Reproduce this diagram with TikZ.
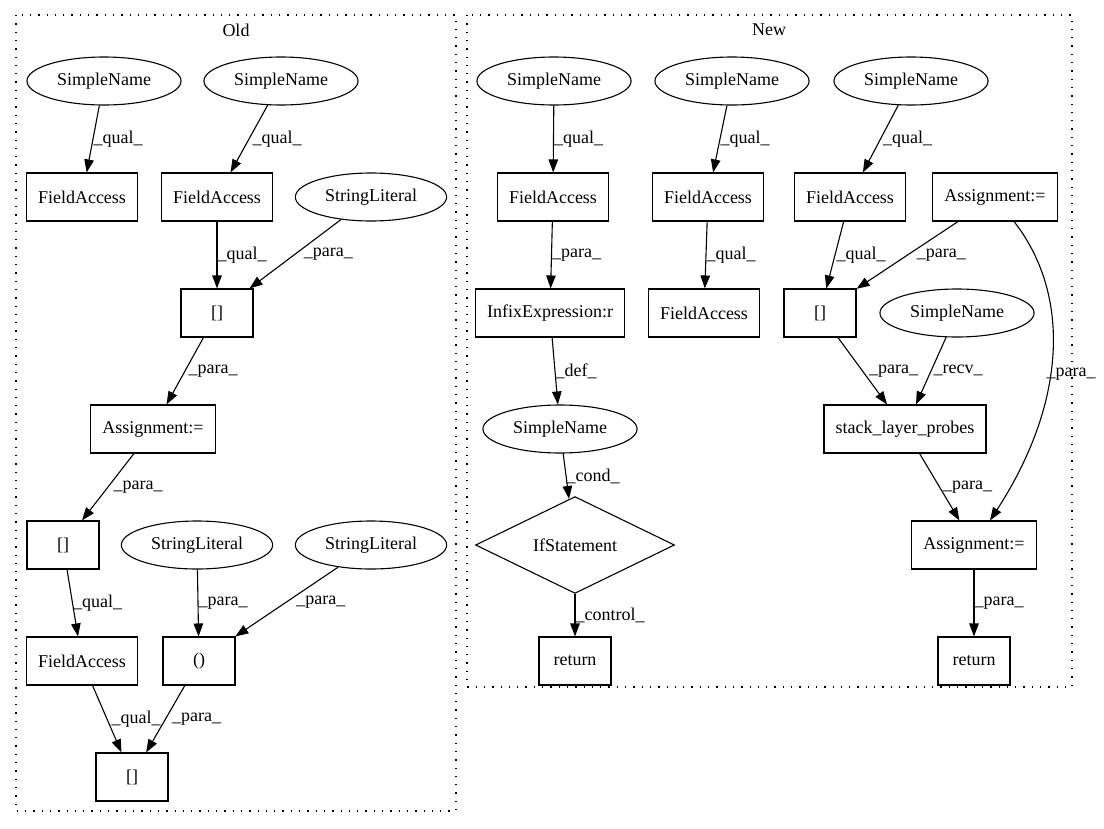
\documentclass[tikz,border=0pt]{standalone}
\usepackage{fontspec}
\setmainfont{Liberation Serif}
\usetikzlibrary{shapes.geometric,arrows.meta}

\begin{document}
\begin{tikzpicture}[x=1pt,y=-1pt,
  font=\fontsize{18}{21}\selectfont, line width=1.1pt,
  box/.style={draw, rectangle, minimum width=72pt, minimum height=48pt, inner xsep=11.5pt},
  oval/.style={draw, ellipse, minimum height=48pt, inner xsep=7.5pt, inner ysep=0pt},
  decision/.style={draw, diamond, minimum width=199pt, minimum height=47pt, inner sep=0pt},
  flow/.style={-{Triangle[length=13pt,width=9.5pt]}},
  elab/.style={anchor=west, inner sep=0pt},
  cluster/.style={draw, line width=1.2pt, dash pattern=on 1.3pt off 7pt}]
  \useasboundingbox (0,0) rectangle (1104,828);

  % Define clusters
  \draw[cluster] (16,15) rectangle (456,811);
  \draw[cluster] (467,15) rectangle (1072,687);
  \node (oldlbl) at (236,30) {Old};
  \node (newlbl) at (769,30) {New};

  % Define nodes for the old version
  \node[oval] (osn1) at (104,81) {SimpleName};
  \node[oval] (osn2) at (281,81) {SimpleName};
  \node[box] (ofa1) at (82,197) {FieldAccess};
  \node[box] (ofa2) at (217,197) {FieldAccess};
  \node[oval] (osl1) at (371,197) {StringLiteral};
  \node[box] (oarr1) at (217,313) {[]};
  \node[box] (oas) at (153,429) {Assignment:=};
  \node[box] (oarr2) at (63,545) {[]};
  \node[oval] (osl2) at (197,545) {StringLiteral};
  \node[oval] (osl3) at (371,545) {StringLiteral};
  \node[box] (ofa3) at (82,661) {FieldAccess};
  \node[box] (ocall) at (199,661) {()};
  \node[box] (oarr3) at (132,777) {[]};

  % Define nodes for the new version
  \node[oval] (nsn1) at (554,81) {SimpleName};
  \node[oval] (nsn2) at (732,81) {SimpleName};
  \node[oval] (nsn3) at (911,81) {SimpleName};
  \node[box] (nfa1) at (553,197) {FieldAccess};
  \node[box] (nfa2) at (708,197) {FieldAccess};
  \node[box] (nfa3) at (850,197) {FieldAccess};
  \node[box] (nas1) at (995,197) {Assignment:=};
  \node[box] (ninfix) at (550,313) {InfixExpression:r};
  \node[box] (nfa4) at (704,313) {FieldAccess};
  \node[box] (narr) at (820,313) {[]};
  \node[oval] (nsn4) at (957,313) {SimpleName};
  \node[oval] (nsn5) at (560,429) {SimpleName};
  \node[box] (nstack) at (905,429) {stack\_layer\_probes};
  \node[decision] (nif) at (575,545) {IfStatement};
  \node[box] (nas2) at (974,545) {Assignment:=};
  \node[box] (nret1) at (575,661) {return};
  \node[box] (nret2) at (974,661) {return};

  % Draw arrows (old)
  \draw[flow] (osn1) -- (ofa1) node[elab, midway] {\_qual\_};
  \draw[flow] (osn2) -- (ofa2) node[elab, midway, xshift=3pt] {\_qual\_};
  \draw[flow] (ofa2) -- (oarr1) node[elab, midway] {\_qual\_};
  \draw[flow] (osl1) -- (oarr1) node[elab, midway, xshift=8pt] {\_para\_};
  \draw[flow] (oarr1) -- (oas) node[elab, midway, xshift=3pt] {\_para\_};
  \draw[flow] (oas) -- (oarr2) node[elab, midway, xshift=5pt] {\_para\_};
  \draw[flow] (oarr2) -- (ofa3) node[elab, midway] {\_qual\_};
  \draw[flow] (osl2) -- (ocall) node[elab, midway] {\_para\_};
  \draw[flow] (osl3) -- (ocall) node[elab, midway, xshift=9pt] {\_para\_};
  \draw[flow] (ofa3) -- (oarr3) node[elab, midway, xshift=4pt] {\_qual\_};
  \draw[flow] (ocall) -- (oarr3) node[elab, midway, xshift=6pt] {\_para\_};

  % Draw arrows (new)
  \draw[flow] (nsn1) -- (nfa1) node[elab, midway] {\_qual\_};
  \draw[flow] (nsn2) -- (nfa2) node[elab, midway] {\_qual\_};
  \draw[flow] (nsn3) -- (nfa3) node[elab, midway, xshift=2pt] {\_qual\_};
  \draw[flow] (nfa1) -- (ninfix) node[elab, midway] {\_para\_};
  \draw[flow] (nfa2) -- (nfa4) node[elab, midway] {\_qual\_};
  \draw[flow] (nfa3) -- (narr) node[elab, midway, xshift=1pt] {\_qual\_};
  \draw[flow] (nas1) -- (narr) node[elab, midway, xshift=9pt] {\_para\_};
  \draw[flow] (nas1) .. controls (1075,300) and (1062,410) .. (nas2)
    node[elab, pos=0.55, xshift=-4pt] {\_para\_};
  \draw[flow] (ninfix) -- (nsn5) node[elab, midway] {\_def\_};
  \draw[flow] (nsn5) -- (nif) node[elab, midway] {\_cond\_};
  \draw[flow] (nif) -- (nret1) node[elab, midway] {\_control\_};
  \draw[flow] (narr) -- (nstack) node[elab, midway, xshift=6pt] {\_para\_};
  \draw[flow] (nsn4) -- (nstack) node[elab, midway, xshift=2pt] {\_recv\_};
  \draw[flow] (nstack) -- (nas2) node[elab, midway, xshift=3pt] {\_para\_};
  \draw[flow] (nas2) -- (nret2) node[elab, midway] {\_para\_};

\end{tikzpicture}
\end{document}
